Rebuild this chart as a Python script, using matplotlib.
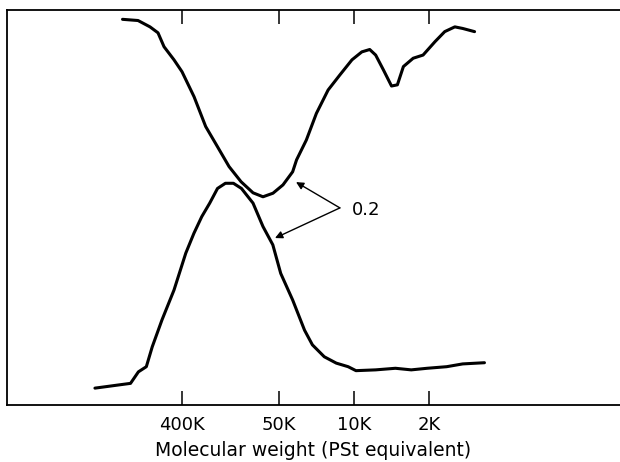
"""GPC trace: two detector curves vs molecular weight (PSt equivalent)."""

import matplotlib

matplotlib.use("Agg")
import matplotlib.pyplot as plt
from matplotlib.ticker import FixedLocator, NullLocator

INK = "#000000"

plt.rcParams.update(
    {
        "font.family": "DejaVu Sans",
        "text.color": INK,
        "axes.edgecolor": INK,
        "xtick.color": INK,
    }
)

# upper trace (dips near 70K, small dip near 4.5K)
upper_mw = [
    1430e3, 1026e3, 794e3, 669e3, 588e3, 475e3, 400e3, 309e3, 241e3, 187e3,
    146e3, 113e3, 87.4e3, 70.6e3, 57.0e3, 46.0e3, 37.4e3, 34.4e3, 27.9e3,
    22.5e3, 17.5e3, 13.6e3, 10.5e3, 8.50e3, 7.18e3, 6.32e3, 5.34e3, 4.50e3,
    3.97e3, 3.49e3, 2.83e3, 2.29e3, 1.77e3, 1.44e3, 1.16e3, 980, 863, 760,
]
upper_sig = [
    97.4, 97.1, 95.5, 94.0, 90.5, 87.2, 84.2, 77.9, 70.4, 65.3,
    60.3, 56.5, 53.7, 52.7, 53.6, 55.7, 59.0, 62.0, 67.0,
    73.7, 79.6, 83.4, 87.2, 89.2, 89.8, 88.4, 84.6, 80.6,
    80.9, 85.5, 87.6, 88.4, 91.8, 94.3, 95.5, 95.1, 94.7, 94.3,
]

# lower trace (peak near 140K)
lower_mw = [
    2582e3, 2002e3, 1556e3, 1205e3, 1018e3, 859e3, 757e3, 614e3, 475e3,
    369e3, 310e3, 262e3, 221e3, 187e3, 158e3, 133e3, 112e3, 87.4e3, 70.6e3,
    57.2e3, 48.3e3, 37.4e3, 29.0e3, 24.5e3, 19.0e3, 14.7e3, 11.4e3, 9.64e3,
    6.32e3, 4.14e3, 2.95e3, 2.10e3, 1.38e3, 980, 615,
]
lower_sig = [
    4.5, 4.9, 5.3, 5.7, 8.6, 9.9, 14.9, 21.7, 29.2,
    38.5, 43.5, 47.7, 51.1, 54.8, 56.1, 56.1, 54.8, 51.1, 45.2,
    40.6, 33.4, 26.7, 19.1, 15.4, 12.4, 10.8, 9.9, 8.9,
    9.1, 9.5, 9.1, 9.5, 9.9, 10.6, 10.9,
]

tick_mw = [400e3, 50e3, 10e3, 2e3]
tick_labels = ["400K", "50K", "10K", "2K"]

fig = plt.figure(figsize=(6.2, 4.62), dpi=100)
ax = fig.add_axes([7 / 620, 57 / 462, 613 / 620, 395 / 462])

line_kw = dict(color=INK, lw=2.2, solid_capstyle="round", solid_joinstyle="round")
ax.plot(upper_mw, upper_sig, **line_kw)
ax.plot(lower_mw, lower_sig, **line_kw)

ax.set_xscale("log")
ax.set_xlim(10**7.23, 10**1.528)
ax.set_ylim(0.25, 99.75)

ax.xaxis.set_major_locator(FixedLocator(tick_mw))
ax.xaxis.set_minor_locator(NullLocator())
ax.set_xticklabels(tick_labels, fontsize=13)
ax.tick_params(axis="x", which="major", direction="in", length=10, width=1.1,
               top=True, bottom=True, labeltop=False, pad=8)
ax.set_yticks([])

ax.spines["right"].set_visible(False)
for side in ("left", "top", "bottom"):
    ax.spines[side].set_linewidth(1.3)

ax.set_xlabel("Molecular weight (PSt equivalent)", fontsize=13.5, labelpad=5)

# "0.2" scale marker with arrows to both traces
arrow = dict(arrowstyle="-|>", color=INK, lw=1.0, mutation_scale=11,
             shrinkA=0, shrinkB=0)
ax.annotate("", xy=(34.8e3, 56.4), xytext=(13.6e3, 49.9), arrowprops=arrow)
ax.annotate("", xy=(54.6e3, 42.3), xytext=(13.6e3, 49.9), arrowprops=arrow)
ax.text(10.5e3, 49.4, "0.2", fontsize=13, ha="left", va="center")

fig.savefig("out.png", dpi=100)
